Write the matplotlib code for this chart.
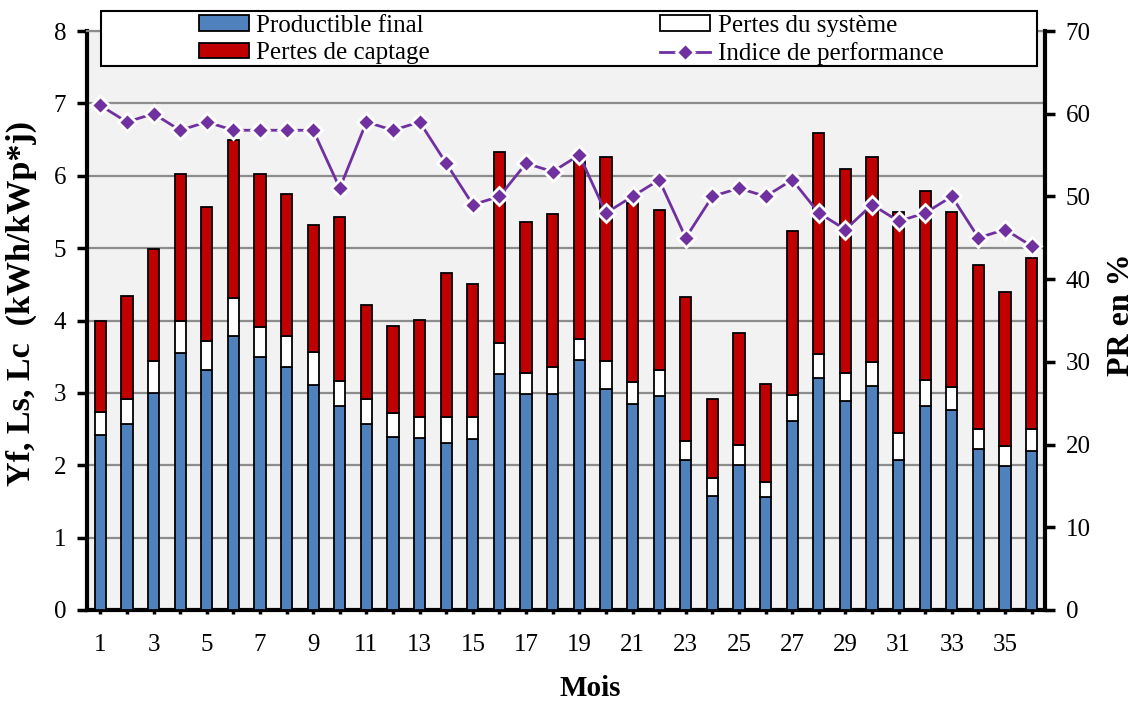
import numpy as np
import matplotlib
matplotlib.use("Agg")
import matplotlib.pyplot as plt
from matplotlib.patches import Rectangle

plt.rcParams['font.family'] = ['Liberation Serif', 'DejaVu Serif']

mois = np.arange(1, 37)

# Productible final (Yf)
yf = [2.42, 2.57, 3.00, 3.55, 3.32, 3.78, 3.49, 3.36, 3.11, 2.82,
      2.57, 2.39, 2.38, 2.31, 2.36, 3.26, 2.98, 2.98, 3.45, 3.06,
      2.84, 2.95, 2.07, 1.57, 2.01, 1.56, 2.61, 3.20, 2.89, 3.09,
      2.07, 2.82, 2.76, 2.23, 1.99, 2.20]
# top of the white part (Yf + Ls)
yf_ls = [2.74, 2.91, 3.44, 4.00, 3.72, 4.31, 3.91, 3.78, 3.56, 3.16,
         2.92, 2.72, 2.67, 2.67, 2.67, 3.69, 3.27, 3.36, 3.75, 3.44,
         3.15, 3.31, 2.34, 1.82, 2.28, 1.77, 2.97, 3.54, 3.28, 3.43,
         2.44, 3.18, 3.08, 2.50, 2.26, 2.50]
# total (Yf + Ls + Lc)
total = [4.00, 4.34, 4.99, 6.03, 5.57, 6.49, 6.02, 5.75, 5.32, 5.43,
         4.21, 3.93, 4.00, 4.66, 4.50, 6.33, 5.36, 5.47, 6.20, 6.26,
         5.62, 5.52, 4.33, 2.91, 3.83, 3.12, 5.23, 6.59, 6.10, 6.26,
         5.50, 5.79, 5.50, 4.77, 4.40, 4.86]
# indice de performance (%)
pr = [61, 59, 60, 58, 59, 58, 58, 58, 58, 51,
      59, 58, 59, 54, 49, 50, 54, 53, 55, 48,
      50, 52, 45, 50, 51, 50, 52, 48, 46, 49,
      47, 48, 50, 45, 46, 44]

yf = np.array(yf)
ls = np.array(yf_ls) - yf
lc = np.array(total) - np.array(yf_ls)

fig = plt.figure(figsize=(11.39, 7.04), dpi=100)
ax = fig.add_axes([87/1139, 1 - 610/704, (1045-87)/1139, (610-31)/704])
ax.set_facecolor('#F2F2F2')

w = 0.42
b1 = ax.bar(mois, yf, w, color='#4F81BD', edgecolor='black', lw=1.3, zorder=3)
b2 = ax.bar(mois, ls, w, bottom=yf, color='white', edgecolor='black', lw=1.3, zorder=3)
b3 = ax.bar(mois, lc, w, bottom=yf + ls, color='#C00000', edgecolor='black', lw=1.3, zorder=3)

ax.set_xlim(0.5, 36.5)
ax.set_ylim(0, 8)
ax.set_yticks(range(0, 9))
ax.yaxis.grid(True, color='#8C8C8C', lw=1.6, zorder=0)
ax.set_axisbelow(True)
ax.set_xticks(mois)
ax.set_xticklabels([str(m) if m % 2 == 1 else '' for m in mois])
ax.tick_params(axis='y', labelsize=18, width=2.5, length=7, direction='out', pad=8)
ax.tick_params(axis='x', labelsize=18, width=2.5, length=6, direction='inout', pad=14)
for s in ['left', 'bottom']:
    ax.spines[s].set_linewidth(3)
ax.spines['right'].set_visible(False)
ax.spines['top'].set_color('#8C8C8C')
ax.spines['top'].set_linewidth(1.6)

ax2 = ax.twinx()
ax2.set_ylim(0, 70)
ax2.set_yticks(range(0, 80, 10))
ln, = ax2.plot(mois, pr, color='#7030A0', lw=2, marker='D', ms=9,
               markerfacecolor='#7030A0', markeredgecolor='white', markeredgewidth=2, zorder=5)
ax2.tick_params(axis='y', labelsize=18, width=2.5, length=7, direction='out', pad=8)
ax2.spines['right'].set_linewidth(3)
for s in ['left', 'bottom', 'top']:
    ax2.spines[s].set_visible(False)

ax.set_ylabel('Yf, Ls, Lc  (kWh/kWp*j)', fontsize=24.5, fontweight='bold')
ax.yaxis.set_label_coords(-0.052, 0.53)
ax2.set_ylabel('PR en %', fontsize=23, fontweight='bold')
ax2.yaxis.set_label_coords(1.065, 0.51)
fig.text(590/1139, 1 - 689/704, 'Mois', fontsize=21, fontweight='bold', ha='center', va='center')

# legend frame across the top
fig.patches.append(Rectangle((101/1139, 1 - 66/704), 936/1139, 55/704, transform=fig.transFigure,
                             facecolor='white', edgecolor='black', lw=1.5, zorder=4))
fig.legend([b1, b3, b2, ln],
           ['Productible final', 'Pertes de captage', 'Pertes du système', 'Indice de performance'],
           ncol=2, loc='center', bbox_to_anchor=(571/1139, 1 - 40/704), frameon=False,
           fontsize=18, handlelength=2.0, handleheight=0.6, handletextpad=0.3,
           columnspacing=9.2, labelspacing=0.22, borderpad=0).set_zorder(5)

plt.savefig('out.png', dpi=100)
